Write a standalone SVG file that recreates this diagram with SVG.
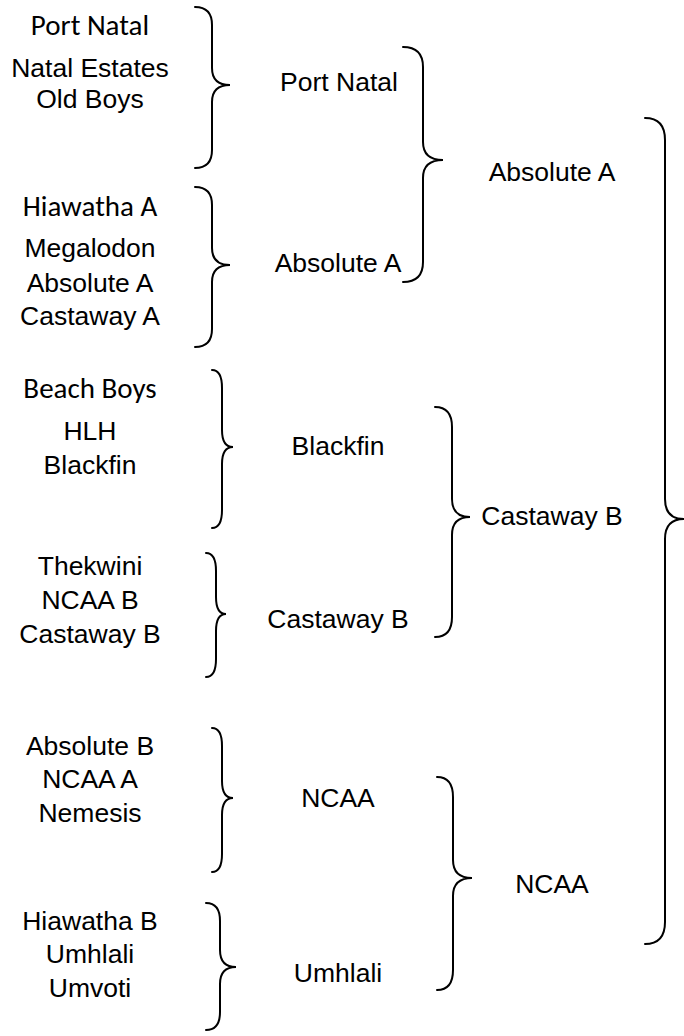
<svg xmlns="http://www.w3.org/2000/svg" width="684" height="1036" viewBox="0 0 684 1036">
<style>
text{font-family:"Liberation Sans",Arial,sans-serif;font-size:26.5px;fill:#000;text-anchor:middle}
text.c{font-family:Carlito,Lato,"Liberation Sans",sans-serif;font-size:29px}
.br{fill:none;stroke:#000;stroke-width:2;stroke-linecap:round}
</style>
<rect width="684" height="1036" fill="#fff"/>
<g id="connectors">
<path class="br" d="M195 7 Q212 7 212 25 L212 68 Q212 85 230 85 Q212 85 212 102 L212 150 Q212 168 195 168"/>
<path class="br" d="M195 187 Q212 187 212 205 L212 248 Q212 265 230 265 Q212 265 212 282 L212 329 Q212 347 195 347"/>
<path class="br" d="M212 370 Q222 370 222 388 L222 430 Q222 447 233 447 Q222 447 222 464 L222 510 Q222 528 212 528"/>
<path class="br" d="M206 553 Q216 553 216 571 L216 597 Q216 614 226 614 Q216 614 216 631 L216 659 Q216 677 206 677"/>
<path class="br" d="M212 728 Q222 728 222 746 L222 781 Q222 798 233 798 Q222 798 222 815 L222 854 Q222 872 212 872"/>
<path class="br" d="M206 903 Q220 903 220 921 L220 950 Q220 967 236 967 Q220 967 220 984 L220 1012 Q220 1030 206 1030"/>
<path class="br" d="M403 47 Q423 47 423 67 L423 142 Q423 160 443 160 Q423 160 423 178 L423 262 Q423 282 403 282"/>
<path class="br" d="M435 407 Q452 407 452 427 L452 499 Q452 517 470 517 Q452 517 452 535 L452 617 Q452 637 435 637"/>
<path class="br" d="M437 777 Q453 777 453 797 L453 860 Q453 878 472 878 Q453 878 453 896 L453 970 Q453 990 437 990"/>
<path class="br" d="M645 118 Q665 118 665 140 L665 499 Q665 519 684 519 Q665 519 665 539 L665 922 Q665 944 645 944"/>
</g>
<g id="group-port-natal">
<text class="c" x="90" y="35">Port Natal</text>
<text x="90" y="77">Natal Estates</text>
<text x="90" y="108">Old Boys</text>
</g>
<g id="group-hiawatha-a">
<text class="c" x="90" y="216">Hiawatha A</text>
<text x="90" y="257">Megalodon</text>
<text x="90" y="292">Absolute A</text>
<text x="90" y="325">Castaway A</text>
</g>
<g id="group-beach-boys">
<text class="c" x="90" y="398">Beach Boys</text>
<text x="90" y="440">HLH</text>
<text x="90" y="474">Blackfin</text>
</g>
<g id="group-thekwini">
<text x="90" y="575">Thekwini</text>
<text x="90" y="609">NCAA B</text>
<text x="90" y="643">Castaway B</text>
</g>
<g id="group-absolute-b">
<text x="90" y="755">Absolute B</text>
<text x="90" y="788">NCAA A</text>
<text x="90" y="822">Nemesis</text>
</g>
<g id="group-hiawatha-b">
<text x="90" y="930">Hiawatha B</text>
<text x="90" y="963">Umhlali</text>
<text x="90" y="997">Umvoti</text>
</g>
<g id="r2-port-natal"><text x="339" y="91">Port Natal</text></g>
<g id="r2-absolute-a"><text x="338" y="272">Absolute A</text></g>
<g id="r2-blackfin"><text x="338" y="455">Blackfin</text></g>
<g id="r2-castaway-b"><text x="338" y="628">Castaway B</text></g>
<g id="r2-ncaa"><text x="338" y="807">NCAA</text></g>
<g id="r2-umhlali"><text x="338" y="982">Umhlali</text></g>
<g id="r3-absolute-a"><text x="552" y="181">Absolute A</text></g>
<g id="r3-castaway-b"><text x="552" y="525">Castaway B</text></g>
<g id="r3-ncaa"><text x="552" y="893">NCAA</text></g>
</svg>
